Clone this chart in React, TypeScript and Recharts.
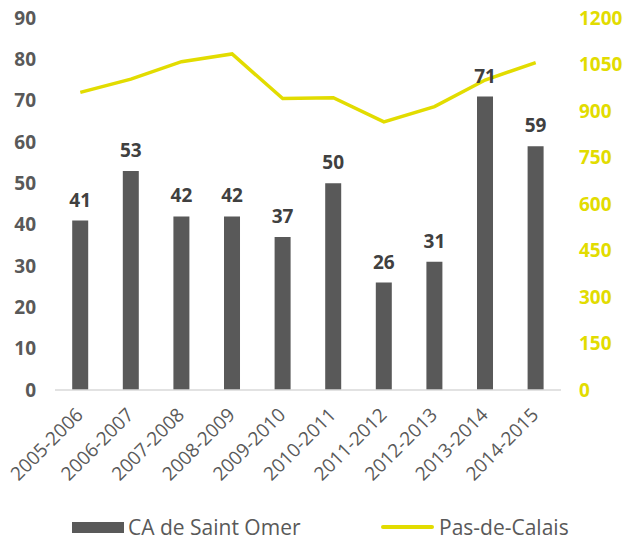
import React from "react";
import { ComposedChart, Bar, Line, XAxis, YAxis, LabelList, Legend } from "recharts";

const categories = ["2005-2006", "2006-2007", "2007-2008", "2008-2009", "2009-2010", "2010-2011", "2011-2012", "2012-2013", "2013-2014", "2014-2015"];
const saintOmer = [41, 53, 42, 42, 37, 50, 26, 31, 71, 59];
const pasDeCalais = [960, 1003, 1059, 1084, 940, 943, 865, 914, 1000, 1056];
const leftTicks = [0, 10, 20, 30, 40, 50, 60, 70, 80, 90];
const rightTicks = [0, 150, 300, 450, 600, 750, 900, 1050, 1200];

const data = categories.map((c, i) => ({ cat: c, omer: saintOmer[i], pdc: pasDeCalais[i] }));

const FONT = "'Open Sans', Lato, sans-serif";
const BAR = "#595959";
const YEL = "#e2dc00";

const XTick = (props: any) => {
  const { x, y, payload } = props;
  const ax = x + 4;
  const ay = y + 18;
  return (
    <text x={ax} y={ay} transform={`rotate(-45, ${ax}, ${ay})`} textAnchor="end" fill="#595959" fontSize={19} fontFamily={FONT}>
      {payload.value}
    </text>
  );
};

const LegendContent = () => (
  <div style={{ position: "relative", width: 625, height: 29, fontFamily: FONT, fontSize: 21, color: "#595959" }}>
    <div style={{ position: "absolute", left: 72, top: 9, width: 52, height: 11, background: BAR }} />
    <div style={{ position: "absolute", left: 128, top: 0, whiteSpace: "nowrap" }}>CA de Saint Omer</div>
    <div style={{ position: "absolute", left: 381, top: 12, width: 53, height: 4, borderRadius: 2, background: YEL }} />
    <div style={{ position: "absolute", left: 439, top: 0, whiteSpace: "nowrap" }}>Pas-de-Calais</div>
  </div>
);

export default function App() {
  return (
    <div style={{ position: "absolute", left: 0, top: 0, width: 625, height: 542, background: "#fff" }}>
      <ComposedChart width={625} height={542} data={data} margin={{ top: 18, right: 0, bottom: 0, left: 0 }} barCategoryGap="34%">
        <XAxis dataKey="cat" interval={0} tick={<XTick />} tickLine={false} axisLine={{ stroke: "#d9d9d9", strokeWidth: 1.5 }} height={123} />
        <YAxis yAxisId="l" orientation="left" width={55} domain={[0, 90]} ticks={leftTicks} axisLine={false} tickLine={false} tickMargin={13}
          tick={{ fill: "#595959", fontSize: 19, fontWeight: 700, fontFamily: FONT }} interval={0} />
        <YAxis yAxisId="r" orientation="right" width={64} domain={[0, 1200]} ticks={rightTicks} axisLine={false} tickLine={false} tickMargin={12}
          tick={{ fill: YEL, fontSize: 19, fontWeight: 700, fontFamily: FONT, textAnchor: "start" }} interval={0} />
        <Bar yAxisId="l" dataKey="omer" name="CA de Saint Omer" fill={BAR} isAnimationActive={false}>
          <LabelList dataKey="omer" position="top" offset={14} fill="#404040" fontSize={19} fontWeight={700} fontFamily={FONT} />
        </Bar>
        <Line yAxisId="r" dataKey="pdc" name="Pas-de-Calais" stroke={YEL} strokeWidth={3.5} dot={false} isAnimationActive={false} />
        <Legend content={<LegendContent />} wrapperStyle={{ position: "absolute", left: 0, top: 513, width: 625, height: 29 }} />
      </ComposedChart>
    </div>
  );
}
